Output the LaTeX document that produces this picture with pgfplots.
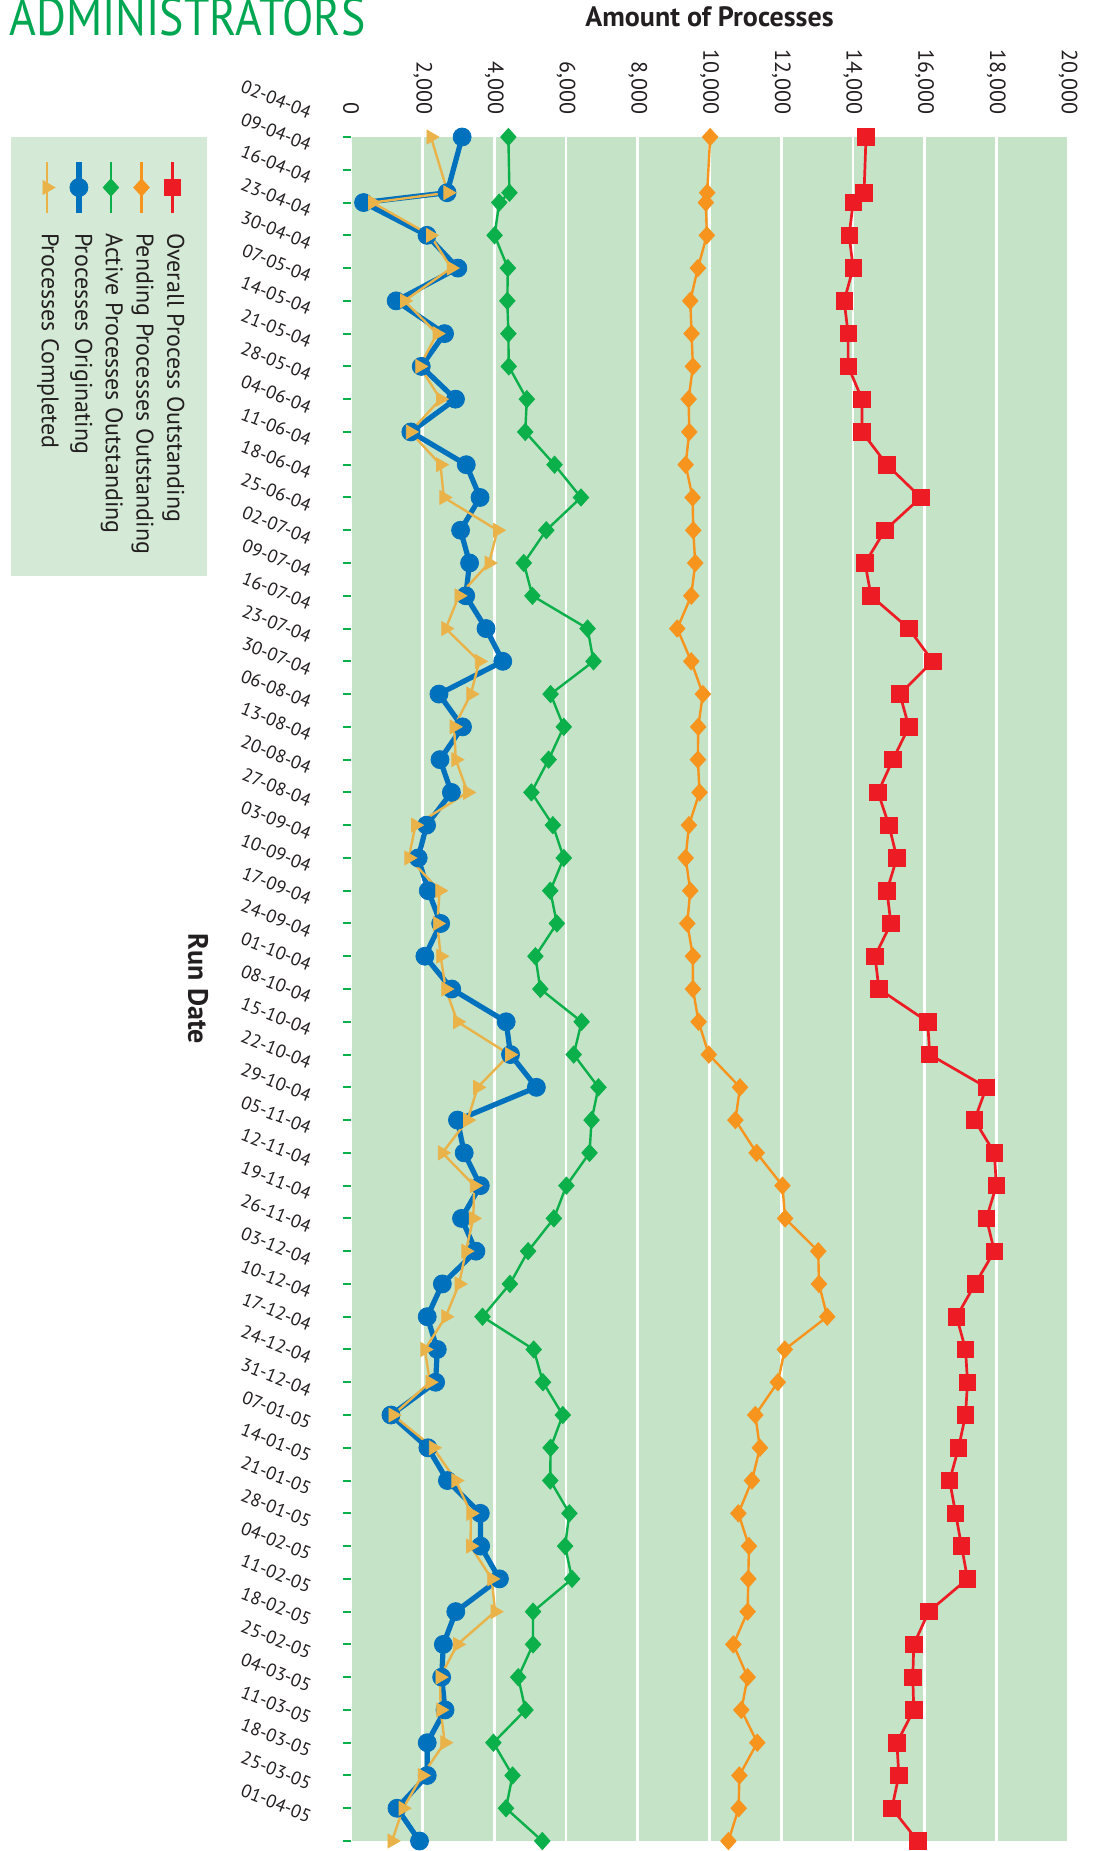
\documentclass[border=0pt]{standalone}
\usepackage{pgfplots}
\pgfplotsset{compat=1.18}
\usepackage{pgfplotstable}
\usepackage{graphicx}
\usepackage{fontspec}
\setmainfont{PT Sans}

\definecolor{plotbg}{HTML}{C4E3C7}
\definecolor{legendbg}{HTML}{D4EAD6}
\definecolor{redc}{HTML}{ED1C24}
\definecolor{orangec}{HTML}{F7941D}
\definecolor{greenc}{HTML}{0CB04A}
\definecolor{bluec}{HTML}{0071BC}
\definecolor{yellowc}{HTML}{EAB34A}
\definecolor{titlegreen}{HTML}{00A651}
\definecolor{labelcol}{HTML}{231F20}

% w = weeks after 02-04-04 (the second run fell on 14-04-04)
\pgfplotstableread{
w    red    orange green blue yellow
0    14366  10018  4390  3100  2230
1.7  14311  9935   4420  2680  2700
2    14006  9898   4135  350   600
3    13895  9926   4005  2120  2215
4    14006  9676   4375  2980  2795
5    13756  9463   4360  1260  1490
6    13867  9500   4390  2610  2400
7    13867  9537   4400  1960  1915
8    14255  9417   4905  2915  2495
9    14255  9436   4860  1670  1655
10   14949  9334   5677  3215  2495
11   15893  9528   6415  3600  2590
12   14894  9547   5447  3056  4084
13   14339  9602   4820  3308  3850
14   14505  9491   5060  3200  3010
15   15560  9100   6599  3766  2642
16   16226  9491   6765  4234  3578
17   15310  9815   5567  2454  3344
18   15560  9685   5935  3110  2876
19   15116  9676   5512  2482  2923
20   14699  9722   5032  2801  3251
21   15005  9426   5631  2108  1799
22   15227  9334   5935  1874  1611
23   14949  9463   5558  2155  2473
24   15060  9380   5742  2501  2407
25   14616  9537   5143  2061  2501
26   14727  9537   5281  2810  2642
27   16087  9695   6433  4328  2970
28   16142  9981   6212  4450  4422
29   17724  10851  6903  5171  3532
30   17391  10722  6710  2970  3251
31   17946  11314  6654  3157  2548
32   18002  12035  6009  3607  3438
33   17724  12109  5659  3082  3410
34   17946  13034  4940  3485  3204
35   17410  13053  4433  2548  3016
36   16892  13284  3668  2126  2642
37   17142  12100  5097  2407  2061
38   17197  11906  5355  2361  2201
39   17142  11277  5908  1115  1171
40   16947  11406  5567  2145  2295
41   16698  11184  5558  2689  2923
42   16864  10805  6092  3607  3344
43   17031  11101  5972  3616  3335
44   17197  11082  6166  4141  3925
45   16115  11064  5078  2923  4019
46   15698  10666  5078  2576  2970
47   15671  11064  4664  2529  2482
48   15698  10888  4866  2623  2501
49   15227  11332  3972  2126  2614
50   15282  10833  4507  2126  1986
51   15088  10814  4323  1283  1452
52   15809  10527  5336  1911  1143
}\runs

% legend entries run top to bottom, each with its sample above the text
\newcommand{\legtext}[1]{\rotatebox{-90}{\strut #1}}

\begin{document}
\begin{tikzpicture}
\useasboundingbox (0,0) rectangle (549.5bp,925.5bp);
\node[anchor=base west, inner sep=0pt, text=titlegreen] at (4.5bp,907.5bp)
  {\resizebox{178bp}{19bp}{ADMINISTRATORS}};
\begin{axis}[
  at={(175.5bp,5bp)}, anchor=south west,
  scale only axis, width=358.5bp, height=852bp,
  xmin=0, xmax=20000, ymin=0, ymax=52, y dir=reverse,
  enlargelimits=false, clip=false,
  axis background/.style={fill=plotbg},
  axis line style={draw=none},
  xtick={0,2000,...,20000},
  scaled x ticks=false,
  xtick pos=upper, xticklabel pos=upper,
  xmajorgrids, major x grid style={white, line width=1.35bp},
  xtick style={draw=none},
  xticklabel style={rotate=-90, anchor=east, inner sep=0pt,
    font=\fontsize{11bp}{13bp}\selectfont, text=labelcol},
  xticklabel shift=7bp,
  /pgf/number format/1000 sep={,},
  /pgf/number format/assume math mode=true,
  ytick={0,...,52},
  ytick pos=left,
  tick align=outside,
  major tick length=4.2bp,
  ytick style={greenc, line width=1bp},
  yticklabels={02-04-04,09-04-04,16-04-04,23-04-04,30-04-04,07-05-04,14-05-04,21-05-04,28-05-04,04-06-04,11-06-04,18-06-04,25-06-04,02-07-04,09-07-04,16-07-04,23-07-04,30-07-04,06-08-04,13-08-04,20-08-04,27-08-04,03-09-04,10-09-04,17-09-04,24-09-04,01-10-04,08-10-04,15-10-04,22-10-04,29-10-04,05-11-04,12-11-04,19-11-04,26-11-04,03-12-04,10-12-04,17-12-04,24-12-04,31-12-04,07-01-05,14-01-05,21-01-05,28-01-05,04-02-05,11-02-05,18-02-05,25-02-05,04-03-05,11-03-05,18-03-05,25-03-05,01-04-05},
  yticklabel style={font=\fontsize{9.2bp}{11bp}\selectfont, text=labelcol,
    inner sep=0pt, xshift=-16bp, yshift=12bp, rotate=-22, anchor=east},
  xlabel={Amount of Processes},
  ylabel={Run Date},
  every axis x label/.style={at={(axis description cs:0.5,1)}, anchor=base,
    yshift=55.5bp, font=\bfseries\fontsize{14bp}{16bp}\selectfont, text=labelcol},
  every axis y label/.style={at={(axis description cs:0,0.5)}, xshift=-76.5bp,
    rotate=-90, anchor=center, font=\bfseries\fontsize{14bp}{16bp}\selectfont,
    text=labelcol},
  legend columns=5,
  reverse legend,
  legend cell align=left,
  legend style={at={(axis description cs:-0.2008,1)}, anchor=north east,
    fill=legendbg, draw=none, inner xsep=10.5bp, inner ysep=11bp,
    font=\fontsize{12bp}{13bp}\selectfont, text=labelcol,
    cells={anchor=north west}, nodes={inner sep=0pt, text depth=},
    /tikz/every odd column/.append style={column sep=0bp},
    /tikz/every even column/.append style={column sep=1.1bp}},
  legend image code/.code={
    \draw[mark repeat=2, mark phase=2, overlay, #1]
      plot coordinates {(7bp,10bp) (7bp,22.75bp) (7bp,35.5bp)};
    \path (0bp,0bp) (0bp,35.5bp);},
]
\addplot[redc, line width=1.35bp, mark=square*, mark size=4.1bp,
  mark options={solid, fill=redc, line width=0.4bp}] table[x=red, y=w] {\runs};
\addlegendentry{\legtext{Overall Process Outstanding}}
\addplot[orangec, line width=1.2bp, mark=diamond*, mark size=4.3bp,
  mark options={solid, fill=orangec, line width=0.4bp, xscale=1.2}] table[x=orange, y=w] {\runs};
\addlegendentry{\legtext{Pending Processes Outstanding}}
\addplot[greenc, line width=1.2bp, mark=diamond*, mark size=4.3bp,
  mark options={solid, fill=greenc, line width=0.4bp, xscale=1.2}] table[x=green, y=w] {\runs};
\addlegendentry{\legtext{Active Processes Outstanding}}
\addplot[bluec, line width=2.6bp, mark=*, mark size=4.5bp,
  mark options={solid, fill=bluec, line width=0.4bp}] table[x=blue, y=w] {\runs};
\addlegendentry{\legtext{Processes Originating}}
\addplot[yellowc, line width=1.2bp, mark=triangle*, mark size=4bp,
  mark options={solid, fill=yellowc, line width=0.4bp, rotate=-90}]
  table[x=yellow, y=w] {\runs};
\addlegendentry{\legtext{Processes Completed}}
\end{axis}
\end{tikzpicture}
\end{document}
